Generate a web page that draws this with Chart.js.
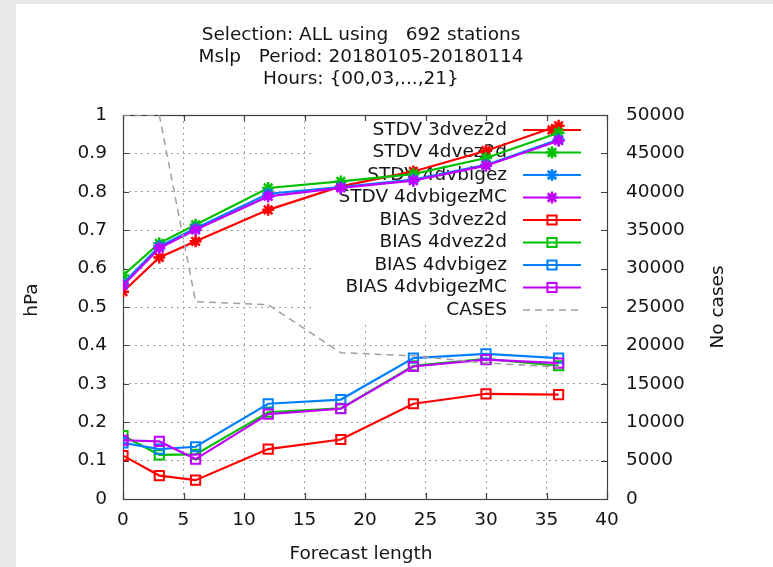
<!DOCTYPE html>
<html>
<head>
<meta charset="utf-8">
<title>Mslp scores</title>
<script src="https://cdn.jsdelivr.net/npm/chart.js@4.4.1/dist/chart.umd.min.js"></script>
<style>
  html, body { margin: 0; padding: 0; background: #e8e8e8; }
  #panel { position: absolute; left: 16px; top: 4px; width: 757px; height: 563px; background: #fff; }
  canvas { display: block; }
</style>
</head>
<body>
<div id="panel"><canvas id="scoreChart" width="757" height="563"></canvas></div>
<script>
// Forecast lengths (hours) and verification scores
const forecastLength = [0, 3, 6, 12, 18, 24, 30, 36];
const stdv3dvez2d    = [0.540, 0.629, 0.671, 0.753, 0.814, 0.853, 0.907, 0.972];
const stdv4dvez2d    = [0.582, 0.666, 0.714, 0.810, 0.827, 0.846, 0.888, 0.954];
const stdv4dvbigez   = [0.561, 0.658, 0.705, 0.795, 0.812, 0.832, 0.870, 0.936];
const stdv4dvbigezMC = [0.556, 0.653, 0.701, 0.788, 0.810, 0.829, 0.868, 0.933];
const bias3dvez2d    = [0.113, 0.061, 0.049, 0.130, 0.155, 0.248, 0.274, 0.272];
const bias4dvez2d    = [0.165, 0.115, 0.116, 0.226, 0.236, 0.347, 0.365, 0.347];
const bias4dvbigez   = [0.146, 0.130, 0.136, 0.248, 0.259, 0.367, 0.378, 0.367];
const bias4dvbigezMC = [0.153, 0.150, 0.104, 0.221, 0.235, 0.345, 0.363, 0.354];
const cases          = [50000, 50000, 25700, 25300, 19050, 18650, 17700, 17200];

const xTickLabels  = ['0', '5', '10', '15', '20', '25', '30', '35', '40'];
const yTickLabels  = ['0', '0.1', '0.2', '0.3', '0.4', '0.5', '0.6', '0.7', '0.8', '0.9', '1'];
const y2TickLabels = ['0', '5000', '10000', '15000', '20000', '25000', '30000', '35000', '40000', '45000', '50000'];

const titleLines = ['Selection: ALL using   692 stations', 'Mslp   Period: 20180105-20180114', 'Hours: {00,03,...,21}'];

const FONT_FAMILY = '"DejaVu Sans", sans-serif';
const FONT_SIZE = 18.5;
const FONT = FONT_SIZE + 'px ' + FONT_FAMILY;
const TEXT = '#151515';
const GRID = '#a0a0a0';

const series = [
    { label: 'STDV 3dvez2d',    data: stdv3dvez2d,    color: '#ff0000', marker: 'star' },
    { label: 'STDV 4dvez2d',    data: stdv4dvez2d,    color: '#00c000', marker: 'star' },
    { label: 'STDV 4dvbigez',   data: stdv4dvbigez,   color: '#0080ff', marker: 'star' },
    { label: 'STDV 4dvbigezMC', data: stdv4dvbigezMC, color: '#c000ff', marker: 'star' },
    { label: 'BIAS 3dvez2d',    data: bias3dvez2d,    color: '#ff0000', marker: 'rect' },
    { label: 'BIAS 4dvez2d',    data: bias4dvez2d,    color: '#00c000', marker: 'rect' },
    { label: 'BIAS 4dvbigez',   data: bias4dvbigez,   color: '#0080ff', marker: 'rect' },
    { label: 'BIAS 4dvbigezMC', data: bias4dvbigezMC, color: '#c000ff', marker: 'rect' },
    { label: 'CASES',           data: cases,          color: '#a0a0a0', marker: null, axis: 'y2' }
];

const STAR_R = 6;
const RECT_R = 6.5;

function points(values) {
    return forecastLength.map(function(x, i) { return { x: x, y: values[i] }; });
}

// small marker used in the key
function drawMarker(ctx, style, x, y) {
    ctx.beginPath();
    if (style === 'star') {
        const r = STAR_R;
        const d = r * Math.SQRT1_2;
        ctx.moveTo(x - r, y); ctx.lineTo(x + r, y);
        ctx.moveTo(x, y - r); ctx.lineTo(x, y + r);
        ctx.moveTo(x - d, y - d); ctx.lineTo(x + d, y + d);
        ctx.moveTo(x - d, y + d); ctx.lineTo(x + d, y - d);
        ctx.lineWidth = 2.5;
    } else {
        const s = RECT_R * Math.SQRT1_2;
        ctx.rect(x - s, y - s, 2 * s, 2 * s);
        ctx.lineWidth = 2;
    }
    ctx.stroke();
}

// key box, border and inward tick marks, drawn under the curves
const frame = {
    id: 'frame',
    beforeDatasetsDraw(chart) {
        const ctx = chart.ctx;
        const a = chart.chartArea;
        ctx.save();

        ctx.fillStyle = '#fff';
        ctx.fillRect(297, a.top + 1, a.right - 297, 318 - a.top);

        ctx.font = FONT;
        ctx.textAlign = 'right';
        ctx.textBaseline = 'middle';
        series.forEach(function(s, i) {
            const y = 126 + i * 22.5;
            ctx.fillStyle = TEXT;
            ctx.fillText(s.label, 491, y);
            ctx.strokeStyle = s.color;
            ctx.lineWidth = s.marker ? 2.2 : 1.5;
            ctx.setLineDash(s.marker ? [] : [7, 5]);
            ctx.beginPath();
            ctx.moveTo(507, y);
            ctx.lineTo(565, y);
            ctx.stroke();
            ctx.setLineDash([]);
            if (s.marker) drawMarker(ctx, s.marker, 536, y);
        });

        ctx.strokeStyle = '#404040';
        ctx.lineWidth = 1.2;
        ctx.strokeRect(a.left + 0.5, a.top + 0.5, a.right - a.left, a.bottom - a.top);

        const t = 6;
        ctx.beginPath();
        chart.scales.x.ticks.forEach(function(tk) {
            const px = Math.round(chart.scales.x.getPixelForValue(tk.value)) + 0.5;
            ctx.moveTo(px, a.bottom); ctx.lineTo(px, a.bottom - t);
            ctx.moveTo(px, a.top); ctx.lineTo(px, a.top + t);
        });
        chart.scales.y.ticks.forEach(function(tk) {
            const py = Math.round(chart.scales.y.getPixelForValue(tk.value)) + 0.5;
            ctx.moveTo(a.left, py); ctx.lineTo(a.left + t, py);
        });
        chart.scales.y2.ticks.forEach(function(tk) {
            const py = Math.round(chart.scales.y2.getPixelForValue(tk.value)) + 0.5;
            ctx.moveTo(a.right, py); ctx.lineTo(a.right - t, py);
        });
        ctx.stroke();
        ctx.restore();
    }
};

// title block and axis labels
const labels = {
    id: 'labels',
    afterDraw(chart) {
        const ctx = chart.ctx;
        ctx.save();
        ctx.font = FONT;
        ctx.fillStyle = TEXT;
        ctx.textAlign = 'center';
        ctx.textBaseline = 'middle';
        titleLines.forEach(function(line, i) {
            ctx.fillText(line, 345, 31 + i * 22);
        });
        ctx.fillText('Forecast length', 345, 550);

        ctx.translate(16, 296);
        ctx.rotate(-Math.PI / 2);
        ctx.fillText('hPa', 0, 0);
        ctx.restore();

        ctx.save();
        ctx.font = FONT;
        ctx.fillStyle = TEXT;
        ctx.textAlign = 'center';
        ctx.textBaseline = 'middle';
        ctx.translate(702, 303);
        ctx.rotate(-Math.PI / 2);
        ctx.fillText('No cases', 0, 0);
        ctx.restore();
    }
};

function gridColor(edges) {
    return function(c) {
        if (c.tick && edges.indexOf(c.tick.value) >= 0) return 'rgba(0,0,0,0)';
        return GRID;
    };
}

const datasets = series.map(function(s, i) {
    return {
        label: s.label,
        data: points(s.data),
        yAxisID: s.axis || 'y',
        borderColor: s.color,
        backgroundColor: s.color,
        borderWidth: s.marker ? 2.2 : 1.5,
        borderDash: s.marker ? [] : [7, 5],
        pointStyle: s.marker || false,
        pointRadius: s.marker === 'star' ? STAR_R : (s.marker ? RECT_R : 0),
        pointBorderWidth: s.marker === 'star' ? 2.5 : 2,
        pointBorderColor: s.color,
        pointBackgroundColor: 'rgba(0,0,0,0)',
        tension: 0,
        order: series.length - i
    };
});

new Chart(document.getElementById('scoreChart'), {
    type: 'line',
    data: { datasets: datasets },
    plugins: [frame, labels],
    options: {
        responsive: false,
        animation: false,
        events: [],
        layout: { padding: { top: 111, left: 0, right: 0, bottom: 0 } },
        plugins: {
            legend: { display: false },
            title: { display: false },
            tooltip: { enabled: false }
        },
        scales: {
            x: {
                type: 'linear',
                min: 0,
                max: 40,
                ticks: {
                    stepSize: 5,
                    padding: 10,
                    font: { family: FONT_FAMILY, size: FONT_SIZE },
                    color: TEXT,
                    maxRotation: 0,
                    callback: function(v, i) { return xTickLabels[i]; }
                },
                grid: { color: gridColor([0, 40]), drawTicks: false, lineWidth: 1 },
                border: { display: false, dash: [2, 4] },
                afterFit: function(s) { s.height = 68; }
            },
            y: {
                position: 'left',
                min: 0,
                max: 1,
                ticks: {
                    stepSize: 0.1,
                    padding: 16,
                    font: { family: FONT_FAMILY, size: FONT_SIZE },
                    color: TEXT,
                    callback: function(v, i) { return yTickLabels[i]; }
                },
                grid: { color: gridColor([0, 1]), drawTicks: false, lineWidth: 1 },
                border: { display: false, dash: [2, 4] },
                afterFit: function(s) { s.width = 107; }
            },
            y2: {
                position: 'right',
                min: 0,
                max: 50000,
                ticks: {
                    stepSize: 5000,
                    padding: 19,
                    font: { family: FONT_FAMILY, size: FONT_SIZE },
                    color: TEXT,
                    callback: function(v, i) { return y2TickLabels[i]; }
                },
                grid: { drawOnChartArea: false, drawTicks: false },
                border: { display: false },
                afterFit: function(s) { s.width = 166; }
            }
        }
    }
});
</script>
</body>
</html>
